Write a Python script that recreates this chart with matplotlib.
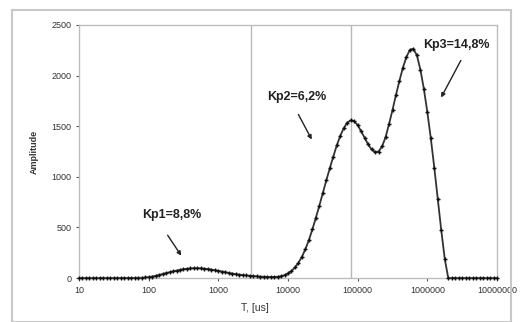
import matplotlib
matplotlib.use("Agg")
import matplotlib.pyplot as plt
from matplotlib.patches import Rectangle

plt.rcParams['font.family'] = ['Liberation Sans', 'DejaVu Sans']

# log10 of period T [us]
log_t = [1.00, 1.05, 1.10, 1.15, 1.20, 1.25, 1.30, 1.35, 1.40, 1.45,
         1.50, 1.55, 1.60, 1.65, 1.70, 1.75, 1.80, 1.85, 1.90, 1.95,
         2.00, 2.05, 2.10, 2.15, 2.20, 2.25, 2.30, 2.35, 2.40, 2.45,
         2.50, 2.55, 2.60, 2.65, 2.70, 2.75, 2.80, 2.85, 2.90, 2.95,
         3.00, 3.05, 3.10, 3.15, 3.20, 3.25, 3.30, 3.35, 3.40, 3.45,
         3.50, 3.55, 3.60, 3.65, 3.70, 3.75, 3.80, 3.85, 3.90, 3.95,
         4.00, 4.05, 4.10, 4.15, 4.20, 4.25, 4.30, 4.35, 4.40, 4.45,
         4.50, 4.55, 4.60, 4.65, 4.70, 4.75, 4.80, 4.85, 4.90, 4.95,
         5.00, 5.05, 5.10, 5.15, 5.20, 5.25, 5.30, 5.35, 5.40, 5.45,
         5.50, 5.55, 5.60, 5.65, 5.70, 5.75, 5.80, 5.85, 5.90, 5.95,
         6.00, 6.05, 6.10, 6.15, 6.20, 6.25, 6.30, 6.35, 6.40, 6.45,
         6.50, 6.55, 6.60, 6.65, 6.70, 6.75, 6.80, 6.85, 6.90, 6.95,
         7.00]
amplitude = [0, 0, 0, 0, 0, 0, 0, 0, 0, 0,
             0, 0, 0, 0, 1, 1, 1, 2, 2, 5,
             8, 14, 22, 30, 39, 48, 57, 65, 73, 80,
             86, 91, 94, 96, 96, 95, 92, 88, 83, 77,
             71, 64, 57, 50, 44, 38, 33, 29, 25, 22,
             19, 16, 14, 12, 11, 10, 10, 12, 17, 28,
             45, 70, 105, 150, 210, 285, 375, 480, 595, 715,
             840, 965, 1085, 1200, 1310, 1405, 1480, 1535, 1558, 1550,
             1510, 1450, 1385, 1320, 1270, 1245, 1250, 1300, 1390, 1520,
             1660, 1810, 1950, 2080, 2185, 2255, 2265, 2200, 2060, 1870,
             1640, 1380, 1090, 780, 470, 190, 0, 0, 0, 0,
             0, 0, 0, 0, 0, 0, 0, 0, 0, 0,
             0]
period = [10 ** v for v in log_t]

x_ticks = [10, 100, 1000, 10000, 100000, 1000000, 10000000]
x_tick_labels = ["10", "100", "1000", "10000", "100000", "1000000", "10000000"]
y_ticks = [0, 500, 1000, 1500, 2000, 2500]
separators = [2900, 80000]

labels = ["Kp1=8,8%", "Kp2=6,2%", "Kp3=14,8%"]
label_pos = [(214, 623), (13500, 1790), (2570000, 2300)]
arrow_tail = [(178, 445), (13500, 1640), (3160000, 2174)]
arrow_head = [(309, 198), (22900, 1344), (1510000, 1759)]

fig = plt.figure(figsize=(5.28, 3.22), dpi=100)
fig.patches.append(Rectangle((12 / 528, 0.0), 499 / 528, 1 - 10 / 322,
                             transform=fig.transFigure, fill=False,
                             edgecolor='#c8c8c8', linewidth=1.5))
ax = fig.add_axes([79 / 528, 1 - 278 / 322, 418 / 528, 253 / 322])
ax.set_xscale('log')
ax.set_xlim(10, 1e7)
ax.set_ylim(0, 2500)

for s in separators:
    ax.axvline(s, color='#b8b8b8', linewidth=1.0, zorder=1)

ax.plot(period, amplitude, color='#333333', linewidth=1.3, zorder=2,
        clip_on=False)
ax.plot(period, amplitude, linestyle='none', marker='+', color='#111111',
        markersize=3.5, markeredgewidth=1.0, zorder=3, clip_on=False)

for txt, pos, tail, head in zip(labels, label_pos, arrow_tail, arrow_head):
    ax.text(pos[0], pos[1], txt, ha='center', va='center', fontsize=9,
            fontweight='bold', color='#222222')
    ax.annotate('', xy=head, xytext=tail,
                arrowprops=dict(arrowstyle='-|>', color='#222222', lw=1.0,
                                mutation_scale=6))

ax.set_xticks(x_ticks)
ax.set_xticklabels(x_tick_labels)
ax.minorticks_off()
ax.set_yticks(y_ticks)
ax.tick_params(axis='both', labelsize=6.5, colors='#555555', length=2, width=0.8,
               labelcolor='#333333')
for sp in ax.spines.values():
    sp.set_color('#bdbdbd')
    sp.set_linewidth(1.0)

ax.set_ylabel('Amplitude', fontsize=6.5, fontweight='bold', color='#333333',
              labelpad=9)
ax.set_xlabel('T, [us]', fontsize=7.5, color='#333333', labelpad=8)
ax.xaxis.set_label_coords((255 - 79) / 418, -0.1)

fig.savefig('out.png', dpi=100)
